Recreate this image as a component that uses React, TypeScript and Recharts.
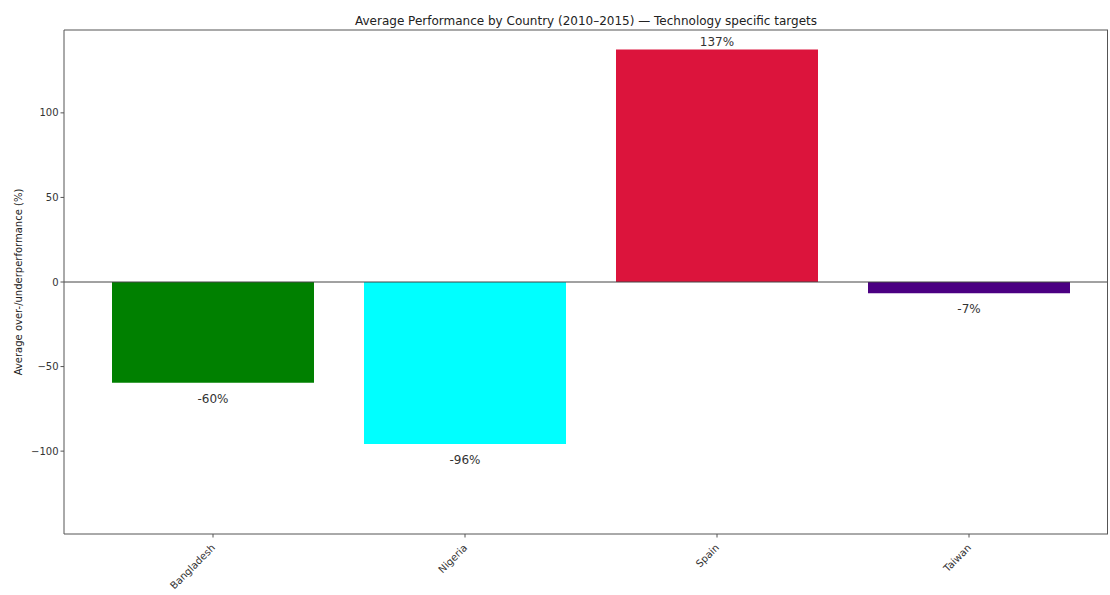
import React from "react";
import { BarChart, Bar, XAxis, YAxis, Cell, LabelList, ReferenceLine } from "recharts";

const countries = ["Bangladesh", "Nigeria", "Spain", "Taiwan"];
const performance = [-59.6, -95.8, 137.4, -6.6];
const barColors = ["#008000", "#00ffff", "#dc143c", "#4b0082"];
const yTicks = [-100, -50, 0, 50, 100];

const data = countries.map((c, i) => ({ country: c, value: performance[i] }));

const font = "'DejaVu Sans', sans-serif";

const ValueLabel = (props: any) => {
  const { x, y, width, height, value } = props;
  const top = Math.min(y, y + height);
  const bottom = Math.max(y, y + height);
  const cx = x + width / 2;
  const text = `${Number(value).toFixed(0)}%`;
  if (value >= 0) {
    return (
      <text x={cx} y={top - 4} textAnchor="middle" fontSize={12} fill="#333" fontFamily={font}>
        {text}
      </text>
    );
  }
  return (
    <text x={cx} y={bottom + 20} textAnchor="middle" fontSize={12} fill="#333" fontFamily={font}>
      {text}
    </text>
  );
};

const XTick = (props: any) => {
  const { x, y, payload } = props;
  return (
    <g transform={`translate(${x},${y + 6})`}>
      <text x={0} y={0} dy={4} textAnchor="end" transform="rotate(-45)" fontSize={10} fill="#333" fontFamily={font}>
        {payload.value}
      </text>
    </g>
  );
};

export default function App() {
  return (
    <div style={{ position: "absolute", left: 0, top: 0, width: 1110, height: 595, background: "#fff" }}>
      <div
        style={{
          position: "absolute",
          top: 14,
          left: 64,
          width: 1044,
          textAlign: "center",
          fontFamily: font,
          fontSize: 12,
          color: "#222",
        }}
      >
        Average Performance by Country (2010–2015) — Technology specific targets
      </div>
      <div
        style={{
          position: "absolute",
          left: 18,
          top: 282,
          transform: "translate(-50%, -50%) rotate(-90deg)",
          whiteSpace: "nowrap",
          fontFamily: font,
          fontSize: 10,
          color: "#222",
        }}
      >
        Average over-/underperformance (%)
      </div>
      <BarChart
        width={1110}
        height={595}
        data={data}
        margin={{ top: 30, right: 2, bottom: 6, left: 20 }}
        style={{ position: "absolute", left: 0, top: 0 }}
      >
        <XAxis
          dataKey="country"
          padding={{ left: 23, right: 13 }}
          height={55}
          tick={<XTick />}
          tickLine={{ stroke: "#555" }}
          tickSize={3.5}
          axisLine={{ stroke: "#555" }}
          interval={0}
        />
        <YAxis
          domain={[-149, 149]}
          ticks={yTicks}
          width={44}
          tick={{ fontSize: 10, fill: "#333", fontFamily: font }}
          tickFormatter={(v: number) => (v < 0 ? `−${Math.abs(v)}` : `${v}`)}
          tickLine={{ stroke: "#555" }}
          tickSize={3.5}
          axisLine={{ stroke: "#555" }}
          allowDataOverflow
        />
        <Bar dataKey="value" barSize={202} isAnimationActive={false}>
          {data.map((d, i) => (
            <Cell key={d.country} fill={barColors[i]} />
          ))}
          <LabelList dataKey="value" content={<ValueLabel />} />
        </Bar>
        <ReferenceLine y={0} stroke="#444" strokeWidth={1} />
        <ReferenceLine y={149} stroke="#555" strokeWidth={1} />
      </BarChart>
      <div
        style={{
          position: "absolute",
          left: 1107,
          top: 30,
          width: 1,
          height: 504,
          background: "#555",
          pointerEvents: "none",
        }}
      />
    </div>
  );
}
